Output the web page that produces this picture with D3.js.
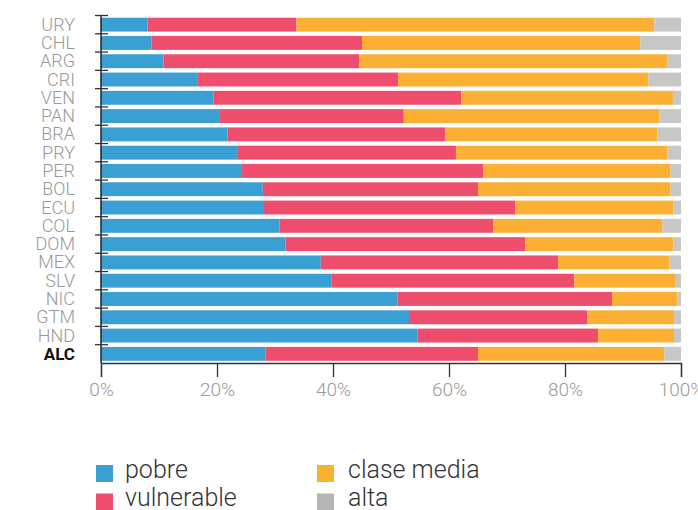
<!DOCTYPE html>
<html>
<head>
<meta charset="utf-8">
<script src="https://cdn.jsdelivr.net/npm/d3@7"></script>
<style>
  body { margin: 0; background: #fff; }
  svg text { font-family: Roboto, "Noto Sans", sans-serif; }
</style>
</head>
<body>
<svg id="chart" width="698" height="510"></svg>
<script>
// data (percent of population)
var countries = ["URY","CHL","ARG","CRI","VEN","PAN","BRA","PRY","PER","BOL","ECU","COL","DOM","MEX","SLV","NIC","GTM","HND","ALC"];
var pobre      = [8.0, 8.7, 10.8, 16.7, 19.4, 20.5, 21.8, 23.6, 24.3, 27.9, 28.1, 30.8, 31.8, 37.9, 39.7, 51.1, 53.1, 54.6, 28.4];
var vulnerable = [25.7, 36.3, 33.7, 34.5, 42.7, 31.7, 37.5, 37.6, 41.6, 37.1, 43.3, 36.8, 41.3, 40.9, 41.9, 37.0, 30.7, 31.1, 36.6];
var claseMedia = [61.7, 48.0, 53.2, 43.2, 36.5, 44.1, 36.6, 36.5, 32.3, 33.2, 27.3, 29.2, 25.6, 19.2, 17.5, 11.3, 15.0, 13.1, 32.1];
var alta       = [4.6, 7.0, 2.3, 5.6, 1.4, 3.7, 4.1, 2.3, 1.8, 1.8, 1.3, 3.2, 1.3, 2.0, 0.9, 0.6, 1.2, 1.2, 2.9];
var keys = ["pobre", "vulnerable", "clase media", "alta"];
var colors = ["#3a9fd2", "#ef4d6e", "#fbb034", "#c7c7c7"];
var legendColors = ["#3a9fd2", "#ef4d6e", "#fbb034", "#b5b5b5"];
var xTicks = [0, 20, 40, 60, 80, 100];

var svg = d3.select("#chart");

var rows = countries.map(function(c, i) {
  return { country: c, "pobre": pobre[i], "vulnerable": vulnerable[i], "clase media": claseMedia[i], "alta": alta[i] };
});

var x = d3.scaleLinear().domain([0, 100]).range([101, 681]);
var y = d3.scaleBand().domain(countries).range([15.5, 363]).paddingInner(0.24).paddingOuter(0.12);
var color = d3.scaleOrdinal().domain(keys).range(colors);
var legendColor = d3.scaleOrdinal().domain(keys).range(legendColors);

var series = d3.stack().keys(keys)(rows);

// bars
svg.append("g").selectAll("g")
  .data(series)
  .join("g")
    .attr("fill", function(d) { return color(d.key); })
  .selectAll("rect")
  .data(function(d) { return d; })
  .join("rect")
    .attr("x", function(d) { return x(d[0]); })
    .attr("y", function(d) { return y(d.data.country); })
    .attr("width", function(d) { return x(d[1]) - x(d[0]); })
    .attr("height", y.bandwidth());

// y axis: line + ticks on band boundaries
var step = y.step();
var yAxis = svg.append("g");
yAxis.append("line")
  .attr("x1", x(0)).attr("x2", x(0))
  .attr("y1", y.range()[0]).attr("y2", y.range()[1])
  .attr("stroke", "#222").attr("stroke-width", 1.5);
yAxis.selectAll("line.tick")
  .data(countries)
  .join("line")
    .attr("class", "tick")
    .attr("x1", x(0) - 6).attr("x2", x(0) + 7)
    .attr("y1", function(d) { return y(d) - step * y.paddingOuter(); })
    .attr("y2", function(d) { return y(d) - step * y.paddingOuter(); })
    .attr("stroke", "#333").attr("stroke-width", 1.3);

yAxis.selectAll("text")
  .data(countries)
  .join("text")
    .attr("x", 75)
    .attr("y", function(d) { return y(d) + y.bandwidth() / 2 + 6; })
    .attr("text-anchor", "end")
    .attr("font-size", function(d) { return d === "ALC" ? 17 : 18; })
    .attr("font-weight", function(d) { return d === "ALC" ? 700 : 300; })
    .attr("fill", function(d) { return d === "ALC" ? "#111" : "#999"; })
    .text(function(d) { return d; });

// x axis
var xAxis = svg.append("g")
  .attr("transform", "translate(0," + y.range()[1] + ")")
  .call(d3.axisBottom(x).tickValues(xTicks).tickSize(14).tickPadding(6)
    .tickFormat(function(d) { return d + "%"; }));
xAxis.select(".domain").attr("stroke", "#333").attr("stroke-width", 1.3);
xAxis.selectAll(".tick line").attr("stroke", "#333").attr("stroke-width", 1.3);
xAxis.selectAll(".tick text")
  .attr("font-family", "Roboto, sans-serif")
  .attr("font-size", 19)
  .attr("font-weight", 300)
  .attr("fill", "#999");

// legend, two columns
var legend = svg.append("g").selectAll("g")
  .data(keys)
  .join("g")
    .attr("transform", function(d, i) {
      return "translate(" + (i < 2 ? 96 : 317) + "," + (465 + (i % 2) * 28.5) + ")";
    });
legend.append("rect")
  .attr("width", 17).attr("height", 17)
  .attr("fill", function(d) { return legendColor(d); });
legend.append("text")
  .attr("x", function(d, i) { return i < 2 ? 29 : 31; })
  .attr("y", 12.5)
  .attr("font-size", 25)
  .attr("font-weight", 300)
  .attr("fill", "#333")
  .text(function(d) { return d; });
</script>
</body>
</html>
